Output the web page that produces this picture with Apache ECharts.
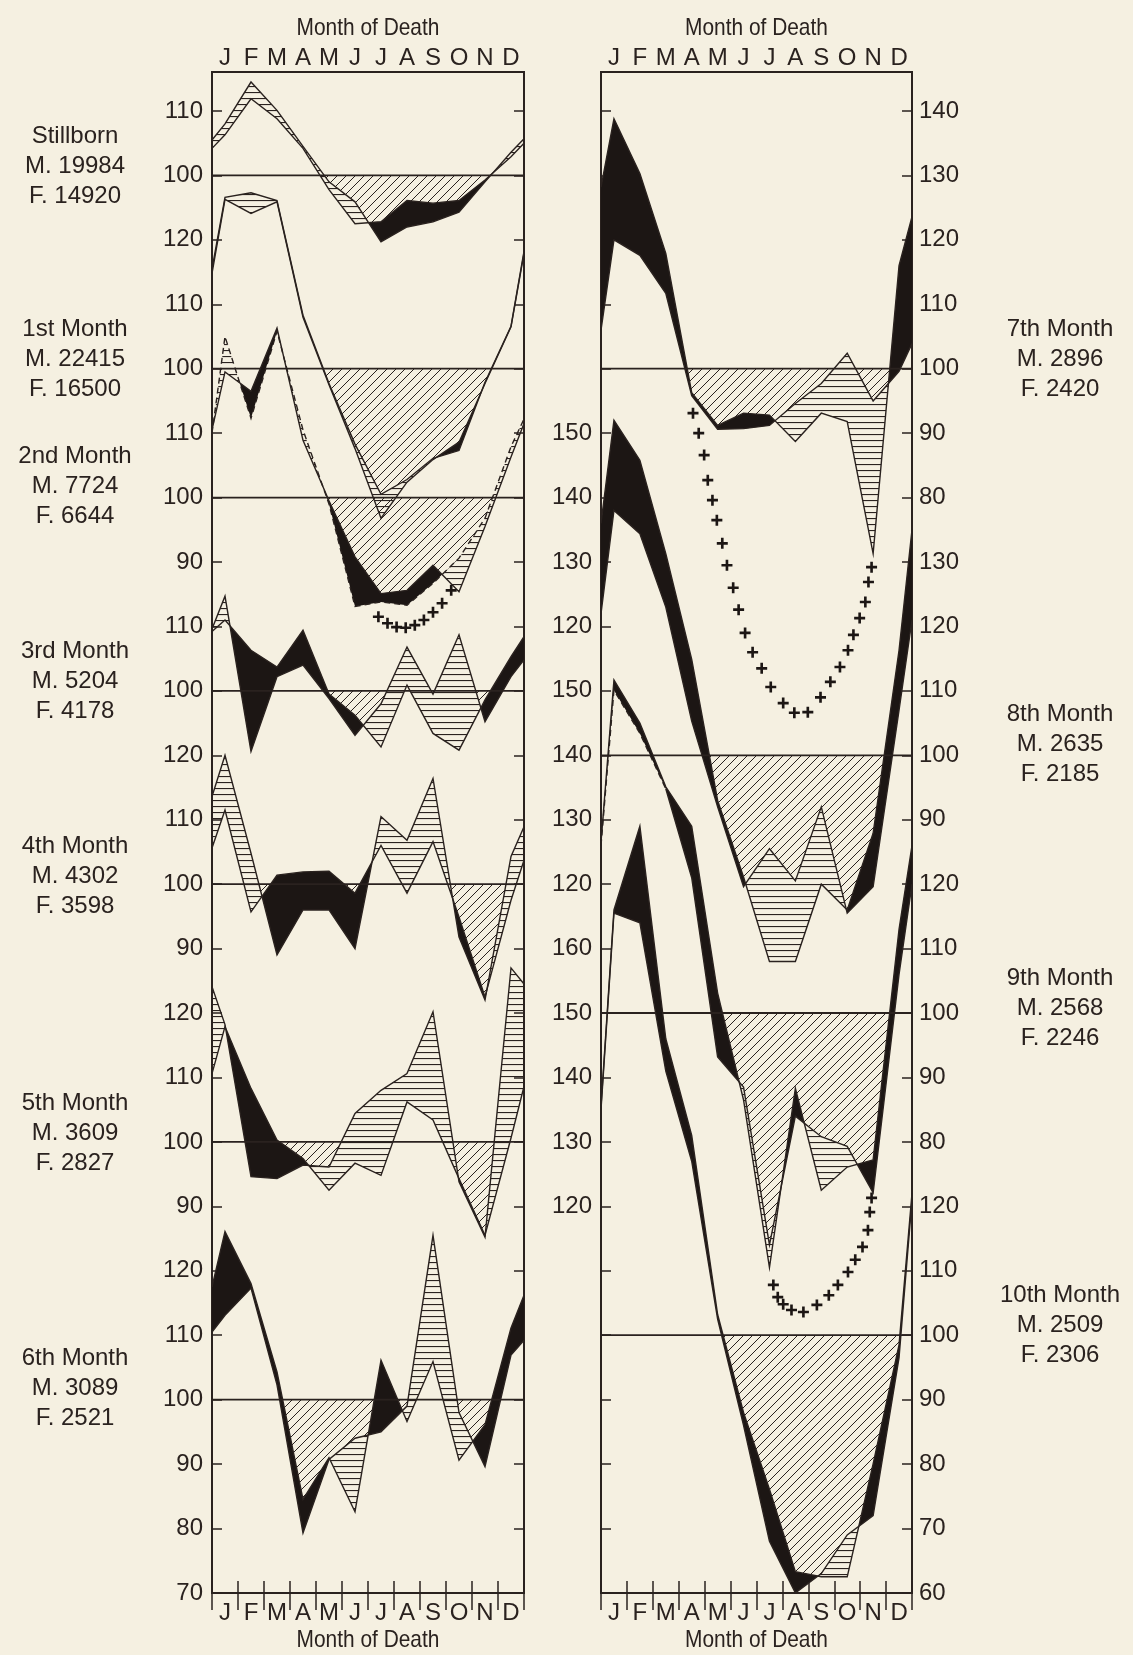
<!DOCTYPE html>
<html>
<head>
<meta charset="utf-8">
<script src="https://cdn.jsdelivr.net/npm/echarts@6/dist/echarts.min.js"></script>
<style>
html, body { margin: 0; padding: 0; background: #f5f0e1; }
#chart { width: 1133px; height: 1655px; }
</style>
</head>
<body>
<div id="chart"></div>
<script>
// Month of death labels
const months = ['J', 'F', 'M', 'A', 'M', 'J', 'J', 'A', 'S', 'O', 'N', 'D'];
// x positions: left edge, the twelve mid-month points, right edge
const xPos = [0, 0.5, 1.5, 2.5, 3.5, 4.5, 5.5, 6.5, 7.5, 8.5, 9.5, 10.5, 11.5, 12];

// Seasonal indices (100 = average) by age at death, male and female
const stillbornM = [104.2, 106.3, 111.9, 108.8, 104.2, 97.8, 92.5, 92.8, 96.1, 95.7, 96.1, 99.3, 102.9, 105.0];
const stillbornF = [105.5, 108.0, 114.5, 110.1, 104.5, 99.0, 95.9, 89.7, 92.0, 92.8, 94.3, 99.0, 103.6, 105.7];
const month1M = [114.8, 126.3, 124.1, 125.9, 108.0, 97.5, 87.6, 76.8, 82.4, 85.9, 88.6, 97.7, 106.5, 117.9];
const month1F = [115.5, 126.6, 127.3, 126.1, 108.3, 97.7, 88.3, 80.5, 82.8, 86.1, 87.3, 97.9, 106.6, 118.2];
const month2M = [110.5, 119.5, 116.5, 126.3, 108.9, 99.5, 90.8, 85.1, 85.6, 89.5, 85.4, 95.5, 106.3, 111.5];
const month2F = [110.0, 125.0, 112.3, 125.8, 110.5, 99.0, 83.1, 83.8, 83.3, 86.7, 90.6, 96.8, 107.9, 112.2];
const month3M = [109.2, 111.0, 106.3, 103.7, 109.4, 99.5, 96.2, 91.3, 100.9, 93.4, 90.8, 98.6, 105.3, 108.4];
const month3F = [109.6, 114.7, 90.6, 102.2, 104.0, 98.8, 93.1, 98.0, 106.8, 99.5, 108.7, 95.2, 102.2, 104.8];
const month4M = [105.6, 111.5, 95.7, 101.4, 101.9, 102.0, 98.6, 106.0, 98.6, 106.6, 94.9, 82.5, 97.5, 103.7];
const month4F = [113.6, 120.0, 104.8, 89.0, 96.0, 96.0, 90.0, 110.5, 106.8, 116.4, 91.8, 82.0, 104.3, 108.9];
const month5M = [110.6, 117.9, 108.3, 100.3, 97.4, 92.5, 96.7, 94.8, 106.2, 103.4, 94.3, 85.5, 100.6, 108.6];
const month5F = [124.1, 118.2, 94.6, 94.3, 96.4, 96.1, 104.4, 108.0, 110.6, 120.2, 93.8, 85.2, 127.0, 124.5];
const month6M = [117.5, 126.1, 118.0, 104.3, 84.5, 91.0, 82.6, 106.1, 96.6, 105.9, 90.6, 96.1, 111.1, 116.2];
const month6F = [110.5, 113.1, 117.3, 102.3, 79.3, 90.7, 94.0, 95.0, 99.0, 125.5, 98.0, 89.6, 106.9, 109.2];
const month7M = [128.2, 138.8, 130.3, 117.9, 96.3, 91.2, 93.1, 92.8, 88.7, 93.1, 91.8, 71.3, 116.0, 123.6];
const month7F = [106.0, 120.0, 117.6, 111.7, 95.8, 90.6, 90.7, 91.2, 94.6, 97.7, 102.4, 95.0, 99.6, 103.9];
const month8M = [136.0, 152.0, 145.8, 131.3, 114.9, 93.0, 81.1, 68.0, 68.0, 80.0, 76.0, 87.9, 116.3, 135.0];
const month8F = [122.0, 138.0, 134.4, 123.0, 105.3, 92.0, 79.6, 85.5, 80.5, 92.0, 75.5, 79.6, 107.0, 121.0];
const month9M = [126.5, 151.7, 145.0, 135.1, 129.0, 103.1, 86.5, 60.5, 88.3, 72.5, 76.1, 77.2, 113.0, 126.0];
const month9F = [126.0, 150.1, 143.4, 134.8, 121.0, 93.2, 88.5, 64.0, 84.0, 80.8, 79.3, 72.1, 106.0, 120.0];
const month10M = [135.5, 166.0, 179.0, 146.0, 131.0, 103.2, 88.0, 76.1, 63.3, 62.5, 62.5, 80.0, 98.5, 122.0];
const month10F = [135.0, 165.5, 164.0, 141.0, 127.0, 102.5, 86.0, 68.0, 60.0, 63.0, 69.0, 72.0, 96.5, 121.0];

// Plus-marked continuation curves: [month position, index]
const plus2nd = [[6.4, 81.5], [6.75, 80.5], [7.1, 79.9], [7.45, 79.8], [7.8, 80.2], [8.15, 81.0], [8.5, 82.2], [8.85, 83.6], [9.2, 85.6]];
const plus8th = [[3.55, 153.1], [3.77, 150.0], [3.98, 146.6], [4.12, 142.7], [4.30, 139.6], [4.47, 136.5], [4.68, 132.9],
  [4.86, 129.5], [5.10, 126.0], [5.31, 122.6], [5.56, 119.0], [5.85, 116.0], [6.20, 113.5], [6.55, 110.6], [7.03, 108.1],
  [7.46, 106.6], [7.98, 106.7], [8.47, 109.0], [8.85, 111.4], [9.22, 113.7], [9.53, 116.3], [9.74, 118.7], [9.98, 121.3],
  [10.20, 123.8], [10.32, 126.9], [10.44, 129.2]];
const plus9th = [[6.65, 57.8], [6.82, 55.9], [7.03, 54.8], [7.35, 53.9], [7.81, 53.6], [8.33, 54.7], [8.79, 56.2],
  [9.14, 57.8], [9.53, 59.8], [9.81, 61.7], [10.09, 63.7], [10.30, 66.3], [10.37, 69.1], [10.44, 71.3]];

// ---- layout ----
const INK = '#2a221f';
const SOLID = '#1c1614';
const FONT = '"Liberation Sans", Arial, sans-serif';
const FS = 24;
const PANEL_TOP = 72, PANEL_BOTTOM = 1593;
const TICK0 = 111, STEP = 64.43;           // pixel row of tick 0 and spacing of 10 index points
const tickY = k => TICK0 + STEP * k;
const panels = [{ x0: 212, x1: 524 }, { x0: 601, x1: 912 }];

const subplots = [
  { p: 0, label: 'Stillborn\nM. 19984\nF. 14920', ly: 166, base: 1, kTop: 0, kBot: 1, m: stillbornM, f: stillbornF, lr: [100, 110], rr: null },
  { p: 0, label: '1st Month\nM. 22415\nF. 16500', ly: 359, base: 4, kTop: 2, kBot: 4, m: month1M, f: month1F, lr: [100, 120], rr: null },
  { p: 0, label: '2nd Month\nM. 7724\nF. 6644', ly: 486, base: 6, kTop: 5, kBot: 7, m: month2M, f: month2F, lr: [90, 110], rr: null, dashTo: 12, plus: plus2nd },
  { p: 0, label: '3rd Month\nM. 5204\nF. 4178', ly: 681, base: 9, kTop: 8, kBot: 9, m: month3M, f: month3F, lr: [100, 110], rr: null },
  { p: 0, label: '4th Month\nM. 4302\nF. 3598', ly: 876, base: 12, kTop: 10, kBot: 13, m: month4M, f: month4F, lr: [90, 120], rr: null },
  { p: 0, label: '5th Month\nM. 3609\nF. 2827', ly: 1133, base: 16, kTop: 14, kBot: 17, m: month5M, f: month5F, lr: [90, 120], rr: null },
  { p: 0, label: '6th Month\nM. 3089\nF. 2521', ly: 1388, base: 20, kTop: 18, kBot: 23, m: month6M, f: month6F, lr: [70, 120], rr: null },
  { p: 1, label: '7th Month\nM. 2896\nF. 2420', ly: 359, base: 4, kTop: 0, kBot: 6, m: month7M, f: month7F, lr: null, rr: [80, 140] },
  { p: 1, label: '8th Month\nM. 2635\nF. 2185', ly: 744, base: 10, kTop: 5, kBot: 11, m: month8M, f: month8F, lr: [120, 150], rr: [90, 130], plus: plus8th },
  { p: 1, label: '9th Month\nM. 2568\nF. 2246', ly: 1008, base: 14, kTop: 9, kBot: 16, m: month9M, f: month9F, lr: [120, 150], rr: [80, 120], dashTo: 2.5, plus: plus9th },
  { p: 1, label: '10th Month\nM. 2509\nF. 2306', ly: 1325, base: 19, kTop: 13, kBot: 23, m: month10M, f: month10F, lr: [120, 160], rr: [60, 120] }
];

// ---- hatch patterns ----
function diagonalHatch() {
  const c = document.createElement('canvas');
  c.width = 9; c.height = 9;
  const g = c.getContext('2d');
  g.strokeStyle = INK; g.lineWidth = 1;
  g.beginPath();
  g.moveTo(-1, 10); g.lineTo(10, -1);
  g.moveTo(-5, 5); g.lineTo(5, -5);
  g.moveTo(4, 14); g.lineTo(14, 4);
  g.stroke();
  return { image: c, repeat: 'repeat' };
}
function horizontalHatch() {
  const c = document.createElement('canvas');
  c.width = 8; c.height = 6;
  const g = c.getContext('2d');
  g.fillStyle = INK;
  g.fillRect(0, 2, 8, 1.1);
  return { image: c, repeat: 'repeat' };
}
const DIAG = diagonalHatch();
const HORIZ = horizontalHatch();

// insert the crossing points of two polylines
function refine(xs, a, b) {
  const X = [xs[0]], A = [a[0]], B = [b[0]];
  for (let i = 0; i < xs.length - 1; i++) {
    const d0 = a[i] - b[i], d1 = a[i + 1] - b[i + 1];
    if (d0 * d1 < 0) {
      const t = d0 / (d0 - d1);
      X.push(xs[i] + t * (xs[i + 1] - xs[i]));
      const v = a[i] + t * (a[i + 1] - a[i]);
      A.push(v); B.push(v);
    }
    X.push(xs[i + 1]); A.push(a[i + 1]); B.push(b[i + 1]);
  }
  return { X, A, B };
}
// group consecutive segments by which polyline lies on top
function runs(r) {
  const out = [];
  let cur = null;
  for (let i = 0; i < r.X.length - 1; i++) {
    const s = Math.sign((r.A[i] + r.A[i + 1]) - (r.B[i] + r.B[i + 1]));
    if (cur && cur.sign === s) cur.end = i + 1;
    else { cur = { sign: s, start: i, end: i + 1 }; out.push(cur); }
  }
  return out;
}

function makeRenderer(sp) {
  return function (params, api) {
    const P = (x, v) => api.coord([x, v]);
    const children = [];
    const polygon = (run, r, fill) => {
      const pts = [];
      for (let j = run.start; j <= run.end; j++) pts.push(P(r.X[j], r.A[j]));
      for (let j = run.end; j >= run.start; j--) pts.push(P(r.X[j], r.B[j]));
      return { type: 'polygon', shape: { points: pts }, style: { fill: fill, stroke: null }, silent: true };
    };
    const r = refine(xPos, sp.m, sp.f);
    // shortfall below 100 down to the nearer of the two curves
    const env = r.X.map((_, j) => Math.max(r.A[j], r.B[j]));
    const r2 = refine(r.X, r.X.map(() => 100), env);
    runs(r2).forEach(run => { if (run.sign > 0) children.push(polygon(run, r2, DIAG)); });
    // gap between the sexes: solid where the male index is higher, ruled where the female one is
    runs(r).forEach(run => {
      if (run.sign !== 0) children.push(polygon(run, r, run.sign > 0 ? SOLID : HORIZ));
    });
    // 100 reference line
    children.push({ type: 'polyline', shape: { points: [P(0, 100), P(12, 100)] }, style: { stroke: INK, lineWidth: 1.8, fill: null }, silent: true });
    const line = (xs, vs, dash) => ({
      type: 'polyline', shape: { points: xs.map((x, i) => P(x, vs[i])) },
      style: { stroke: INK, lineWidth: 1.4, fill: null, lineDash: dash ? [6, 4] : null }, silent: true
    });
    children.push(line(xPos, sp.m, false));
    if (sp.dashTo != null) {
      const cut = xPos.indexOf(sp.dashTo);
      children.push(line(xPos.slice(0, cut + 1), sp.f.slice(0, cut + 1), true));
      if (cut < xPos.length - 1) children.push(line(xPos.slice(cut), sp.f.slice(cut), false));
    } else {
      children.push(line(xPos, sp.f, false));
    }
    return { type: 'group', children };
  };
}

const labelStyle = { color: INK, fontFamily: FONT, fontSize: FS };
const grids = [], xAxes = [], yAxes = [], series = [], graphics = [];

// axis title, set in a horizontally condensed face
const axisTitle = (x, y) => ({ type: 'text', x: x, y: y, scaleX: 0.87,
  style: { text: 'Month of Death', fill: INK, font: FS + 'px ' + FONT, align: 'center', verticalAlign: 'middle' } });

// panel frames with month axes
panels.forEach((pn, i) => {
  grids.push({ left: pn.x0, width: pn.x1 - pn.x0, top: PANEL_TOP, height: PANEL_BOTTOM - PANEL_TOP,
    show: true, borderColor: INK, borderWidth: 2, backgroundColor: 'transparent' });
  ['top', 'bottom'].forEach(pos => {
    xAxes.push({ gridIndex: i, type: 'category', data: months, position: pos, boundaryGap: true,
      axisLine: { show: false },
      axisTick: { show: true, inside: true, interval: 0, length: pos === 'top' ? 17 : 12, lineStyle: { color: INK, width: 1.5 } },
      axisLabel: Object.assign({ interval: 0, margin: pos === 'top' ? 2 : 8 }, labelStyle),
      splitLine: { show: false } });
  });
  yAxes.push({ gridIndex: i, type: 'value', show: false, min: 0, max: 1 });
  graphics.push(axisTitle((pn.x0 + pn.x1) / 2, 28));
  graphics.push(axisTitle((pn.x0 + pn.x1) / 2, 1640));
});

subplots.forEach((sp, i) => {
  const pn = panels[sp.p];
  const gi = grids.length;
  grids.push({ left: pn.x0, width: pn.x1 - pn.x0, top: tickY(sp.kTop), height: STEP * (sp.kBot - sp.kTop) });
  const xi = xAxes.length;
  xAxes.push({ gridIndex: gi, type: 'value', min: 0, max: 12, show: false });
  const yMin = 100 + 10 * (sp.base - sp.kBot), yMax = 100 + 10 * (sp.base - sp.kTop);
  const yi = yAxes.length;
  const mk = (pos, range) => ({
    gridIndex: gi, type: 'value', position: pos, min: yMin, max: yMax, interval: 10,
    axisLine: { show: false }, splitLine: { show: false },
    axisTick: { show: true, inside: true, length: 10, lineStyle: { color: INK, width: 1.5 } },
    axisLabel: Object.assign({ margin: pos === 'left' ? 9 : 7,
      formatter: v => (range && v >= range[0] && v <= range[1]) ? String(v) : '' }, labelStyle)
  });
  yAxes.push(mk('left', sp.lr));
  yAxes.push(mk('right', sp.rr));
  series.push({ type: 'custom', coordinateSystem: 'cartesian2d', xAxisIndex: xi, yAxisIndex: yi,
    data: [[0, 100]], clip: false, silent: true, z: 2, renderItem: makeRenderer(sp) });
  if (sp.plus) {
    series.push({ type: 'scatter', xAxisIndex: xi, yAxisIndex: yi, data: sp.plus, clip: false, silent: true, z: 3,
      symbol: 'path://M3.8,0H6.2V3.8H10V6.2H6.2V10H3.8V6.2H0V3.8H3.8Z', symbolSize: 11, itemStyle: { color: SOLID, opacity: 1 } });
  }
  graphics.push({ type: 'text', x: sp.p === 0 ? 75 : 1060, y: sp.ly,
    style: { text: sp.label, fill: INK, font: FS + 'px ' + FONT, align: 'center', verticalAlign: 'middle', lineHeight: 30 } });
});

const chart = echarts.init(document.getElementById('chart'), null, { renderer: 'canvas', width: 1133, height: 1655 });
chart.setOption({
  backgroundColor: '#f5f0e1',
  animation: false,
  grid: grids,
  xAxis: xAxes,
  yAxis: yAxes,
  series: series,
  graphic: graphics
});
</script>
</body>
</html>
